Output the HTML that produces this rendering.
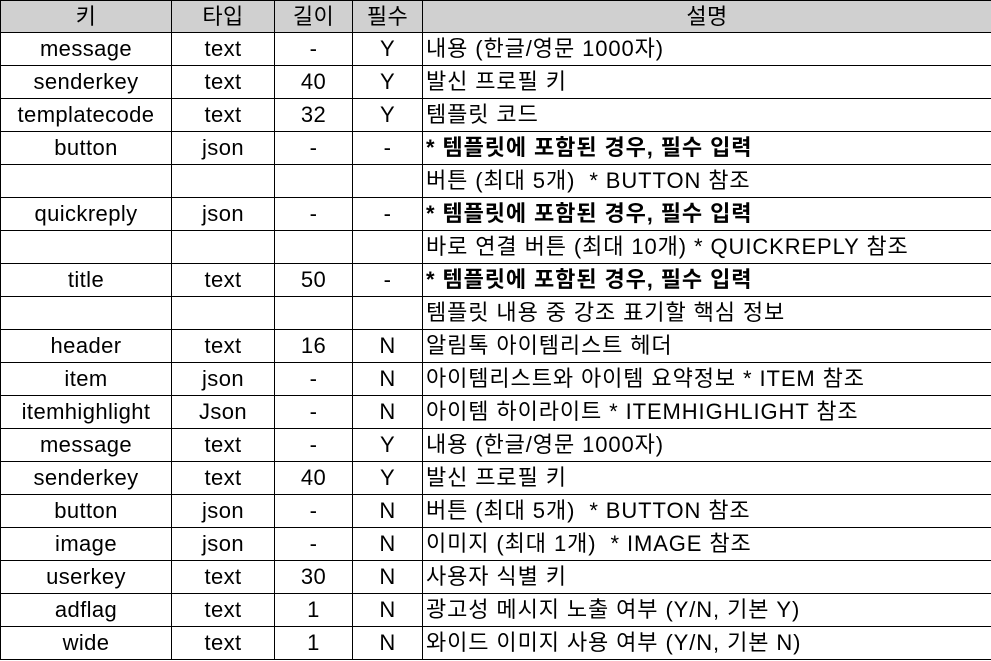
<!DOCTYPE html>
<html><head><meta charset="utf-8">
<style>
html,body{margin:0;padding:0;background:#fff;width:991px;height:661px;overflow:hidden}
table{border-collapse:collapse;table-layout:fixed;width:991px;position:absolute;left:0;top:0;
font-family:"Liberation Sans","Noto Sans CJK KR",sans-serif;font-size:22px;letter-spacing:0.4px;color:#000}
td,th{border:1.5px solid #000;padding:0;height:32px;line-height:32px;white-space:nowrap;overflow:hidden;font-weight:normal;text-align:center}
th{background:#d0d0d0;height:31px;line-height:31px}
td.d{text-align:left;padding-left:3px;letter-spacing:0.9px}
td.b{font-weight:bold}
</style></head><body>
<table>
<colgroup><col style="width:171px"><col style="width:103px"><col style="width:78px"><col style="width:70px"><col style="width:569px"></colgroup>
<thead><tr><th>키</th><th>타입</th><th>길이</th><th>필수</th><th>설명</th></tr></thead>
<tbody>
<tr><td>message</td><td>text</td><td>-</td><td>Y</td><td class="d">내용 (한글/영문 1000자)</td></tr>
<tr><td>senderkey</td><td>text</td><td>40</td><td>Y</td><td class="d">발신 프로필 키</td></tr>
<tr><td>templatecode</td><td>text</td><td>32</td><td>Y</td><td class="d">템플릿 코드</td></tr>
<tr><td>button</td><td>json</td><td>-</td><td>-</td><td class="d b">* 템플릿에 포함된 경우, 필수 입력</td></tr>
<tr><td></td><td></td><td></td><td></td><td class="d">버튼 (최대 5개)&nbsp; * BUTTON 참조</td></tr>
<tr><td>quickreply</td><td>json</td><td>-</td><td>-</td><td class="d b">* 템플릿에 포함된 경우, 필수 입력</td></tr>
<tr><td></td><td></td><td></td><td></td><td class="d">바로 연결 버튼 (최대 10개) * QUICKREPLY 참조</td></tr>
<tr><td>title</td><td>text</td><td>50</td><td>-</td><td class="d b">* 템플릿에 포함된 경우, 필수 입력</td></tr>
<tr><td></td><td></td><td></td><td></td><td class="d">템플릿 내용 중 강조 표기할 핵심 정보</td></tr>
<tr><td>header</td><td>text</td><td>16</td><td>N</td><td class="d">알림톡 아이템리스트 헤더</td></tr>
<tr><td>item</td><td>json</td><td>-</td><td>N</td><td class="d">아이템리스트와 아이템 요약정보 * ITEM 참조</td></tr>
<tr><td>itemhighlight</td><td>Json</td><td>-</td><td>N</td><td class="d">아이템 하이라이트 * ITEMHIGHLIGHT 참조</td></tr>
<tr><td>message</td><td>text</td><td>-</td><td>Y</td><td class="d">내용 (한글/영문 1000자)</td></tr>
<tr><td>senderkey</td><td>text</td><td>40</td><td>Y</td><td class="d">발신 프로필 키</td></tr>
<tr><td>button</td><td>json</td><td>-</td><td>N</td><td class="d">버튼 (최대 5개)&nbsp; * BUTTON 참조</td></tr>
<tr><td>image</td><td>json</td><td>-</td><td>N</td><td class="d">이미지 (최대 1개)&nbsp; * IMAGE 참조</td></tr>
<tr><td>userkey</td><td>text</td><td>30</td><td>N</td><td class="d">사용자 식별 키</td></tr>
<tr><td>adflag</td><td>text</td><td>1</td><td>N</td><td class="d">광고성 메시지 노출 여부 (Y/N, 기본 Y)</td></tr>
<tr><td>wide</td><td>text</td><td>1</td><td>N</td><td class="d">와이드 이미지 사용 여부 (Y/N, 기본 N)</td></tr>
</tbody></table>
</body></html>
